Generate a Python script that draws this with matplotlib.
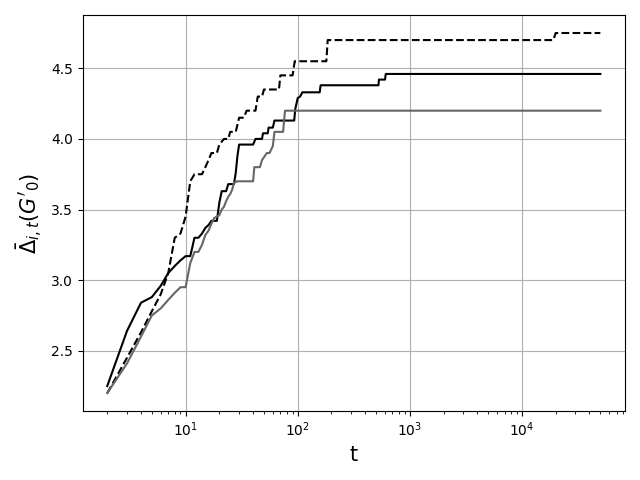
import matplotlib
matplotlib.use("Agg")
import matplotlib.pyplot as plt

# vertices of the three curves (t, mean value)
t_solid = [2, 3, 4, 5, 6, 7, 8, 9, 10, 11, 12, 13, 14, 15, 16, 17, 19, 20, 21, 23,
           24, 27, 28, 29, 30, 40, 42, 48, 49, 54, 55, 60, 62, 93, 95, 100, 105, 110,
           157, 160, 525, 530, 600, 610, 50000]
v_solid = [2.25, 2.64, 2.84, 2.88, 2.96, 3.05, 3.10, 3.14, 3.17, 3.17, 3.30, 3.30,
           3.33, 3.37, 3.39, 3.42, 3.42, 3.55, 3.63, 3.63, 3.68, 3.68, 3.76, 3.88,
           3.96, 3.96, 4.00, 4.00, 4.04, 4.04, 4.08, 4.08, 4.13, 4.13, 4.21, 4.29,
           4.30, 4.33, 4.33, 4.38, 4.38, 4.42, 4.42, 4.46, 4.46]

t_dashed = [2, 3, 4, 5, 6, 7, 8, 9, 10, 11, 12, 14, 15, 16, 17, 19, 20, 22, 24, 25,
            28, 30, 33, 35, 42, 44, 48, 50, 68, 70, 90, 94, 180, 185, 19000, 20000, 50000]
v_dashed = [2.20, 2.45, 2.63, 2.78, 2.90, 3.05, 3.30, 3.33, 3.45, 3.70, 3.75, 3.75,
            3.80, 3.85, 3.90, 3.90, 3.96, 4.00, 4.00, 4.05, 4.05, 4.15, 4.15, 4.20,
            4.20, 4.30, 4.30, 4.35, 4.35, 4.45, 4.45, 4.55, 4.55, 4.70, 4.70, 4.75, 4.75]

t_gray = [2, 3, 4, 5, 6, 7, 8, 9, 10, 11, 12, 13, 14, 15, 16, 17, 18, 20, 21, 22,
          23, 24, 25, 26, 27, 29, 40, 41, 46, 48, 53, 56, 60, 62, 74, 77, 50000]
v_gray = [2.20, 2.41, 2.60, 2.75, 2.80, 2.86, 2.91, 2.95, 2.95, 3.12, 3.20, 3.20,
          3.25, 3.32, 3.35, 3.40, 3.44, 3.46, 3.50, 3.52, 3.56, 3.59, 3.61, 3.64,
          3.69, 3.70, 3.70, 3.80, 3.80, 3.85, 3.90, 3.90, 3.95, 4.05, 4.05, 4.20, 4.20]

fig, ax = plt.subplots(figsize=(6.4, 4.8), dpi=100)
ax.plot(t_solid, v_solid, color="black", lw=1.5)
ax.plot(t_dashed, v_dashed, color="black", lw=1.5, ls="--")
ax.plot(t_gray, v_gray, color="#666666", lw=1.5)
ax.set_xscale("log")
ax.set_xlabel("t", fontsize=15)
ax.set_ylabel(r"$\bar{\Delta}_{i,t}(G'_0)$", fontsize=15)
ax.grid(True)
plt.tight_layout()
plt.savefig("out.png")
